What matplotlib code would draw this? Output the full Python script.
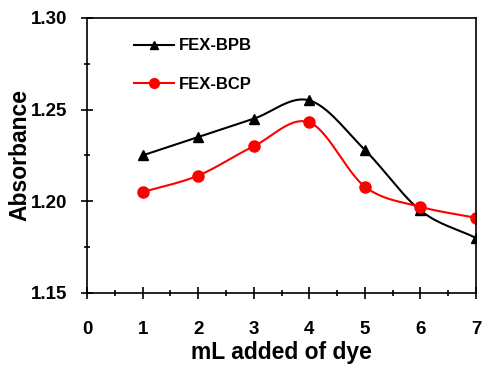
import matplotlib
matplotlib.use("Agg")
import matplotlib.pyplot as plt
import numpy as np

plt.rcParams["font.family"] = ["Liberation Sans", "DejaVu Sans"]
plt.rcParams["font.weight"] = "bold"

dye_ml = [1, 2, 3, 4, 5, 6, 7]
fex_bpb = [1.225, 1.235, 1.245, 1.255, 1.228, 1.195, 1.180]
fex_bcp = [1.205, 1.214, 1.230, 1.243, 1.208, 1.197, 1.191]


def smooth(x, y, n=30):
    # Catmull-Rom spline through the points, like a smoothed-line chart
    x = np.asarray(x, float)
    y = np.asarray(y, float)
    px = np.concatenate([[2 * x[0] - x[1]], x, [2 * x[-1] - x[-2]]])
    py = np.concatenate([[2 * y[0] - y[1]], y, [2 * y[-1] - y[-2]]])
    xs, ys = [], []
    t = np.linspace(0, 1, n)
    for i in range(1, len(px) - 2):
        for p, out in ((px, xs), (py, ys)):
            p0, p1, p2, p3 = p[i - 1], p[i], p[i + 1], p[i + 2]
            out.extend(0.5 * (2 * p1 + (-p0 + p2) * t
                              + (2 * p0 - 5 * p1 + 4 * p2 - p3) * t ** 2
                              + (-p0 + 3 * p1 - 3 * p2 + p3) * t ** 3))
    return xs, ys


fig = plt.figure(figsize=(5, 3.8), dpi=100)
ax = fig.add_axes([0.174, 0.229, 0.778, 0.724])

for vals, color, marker, ms, lms, label in [
    (fex_bpb, "black", "^", 7, 6, "FEX-BPB"),
    (fex_bcp, "red", "o", 8, 7, "FEX-BCP"),
]:
    sx, sy = smooth(dye_ml, vals)
    ax.plot(sx, sy, color=color, linewidth=1.5)
    ax.plot(dye_ml, vals, linestyle="none", marker=marker, markersize=ms, color=color)
    ax.plot([], [], color=color, marker=marker, markersize=lms, linewidth=1.5, label=label)

ax.set_xlim(0, 7)
ax.set_ylim(1.15, 1.30)
ax.set_xticks(range(0, 8))
ax.set_xticks(np.arange(0.5, 7, 1), minor=True)
ax.set_yticks([1.15, 1.20, 1.25, 1.30])
ax.set_yticks([1.175, 1.225, 1.275], minor=True)
ax.yaxis.set_major_formatter(matplotlib.ticker.FormatStrFormatter("%.2f"))
ax.tick_params(which="both", direction="inout", width=1.2, labelsize=13.5)
ax.tick_params(axis="y", pad=10)
ax.tick_params(axis="x", pad=16)
ax.tick_params(which="major", length=8)
ax.tick_params(which="minor", length=5)
for s in ax.spines.values():
    s.set_linewidth(1.2)

ax.set_xlabel("mL added of dye", fontsize=16.5, fontweight="bold", labelpad=2)
ax.set_ylabel("Absorbance", fontsize=16.5, fontweight="bold", labelpad=0)

ax.legend(loc="upper left", bbox_to_anchor=(0.082, 0.98), frameon=False,
          fontsize=12, handlelength=2.4, labelspacing=1.4, handletextpad=0.3)

fig.savefig("out.png", dpi=100)
